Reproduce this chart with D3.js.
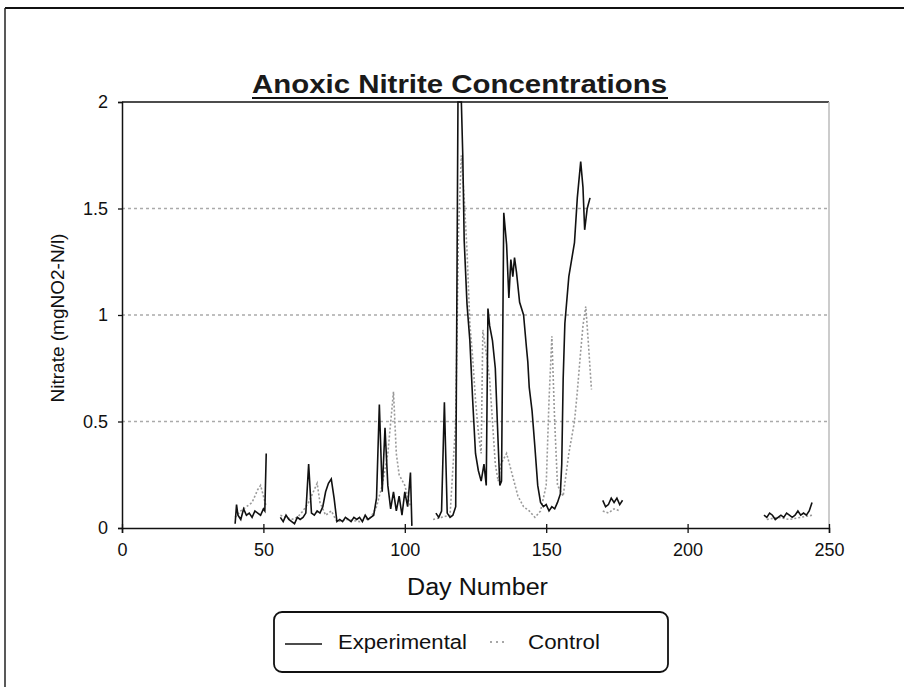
<!DOCTYPE html>
<html><head><meta charset="utf-8">
<script src="https://cdn.jsdelivr.net/npm/d3@7"></script>
<style>body{margin:0;background:#fff}svg{display:block}text{font-family:"Liberation Sans",Arial,sans-serif}</style>
</head><body>
<svg id="c" width="904" height="687"></svg>
<script>
const title = "Anoxic Nitrite Concentrations";
const xLabel = "Day Number";
const yLabel = "Nitrate (mgNO2-N/l)";
const seriesNames = ["Experimental", "Control"];
const xTicks = [0, 50, 100, 150, 200, 250];
const yTicks = [0, 0.5, 1, 1.5, 2];
const yTickLabels = ["0", "0.5", "1", "1.5", "2"];
const gridValues = [0.5, 1, 1.5];

// Experimental (solid) — null marks a gap in the record
const expDays = [40,40.5,41,42,43,44,45,46,47,48,49,50,50.5,51,52,
  56,57,58,59,60,61,62,63,64,65,66,67,68,69,70,71,72,73,74,75,76,77,78,79,80,81,82,83,84,85,86,87,88,89,90,91,92,93,94,95,96,97,98,99,100,101,102,102.5,105,
  111,112,113,114,115,116,117,118,118.8,120,120.5,121,122,123,124,125,126,127,128,128.8,129.4,130,131,132,133,133.6,134.2,135,136,136.8,137.5,138.2,138.8,139.5,140.6,142,143,143.5,144,145,146,147,148,149,150,151,152,153,154,155,155.5,156,156.6,158,160,161,162.2,163,163.6,164.5,165.5,168,
  170,171,172,173,174,175,176,177,180,
  227,228,229,230,231,232,233,234,235,236,237,238,239,240,241,242,243,244];
const expValues = [0.02,0.11,0.06,0.04,0.09,0.06,0.07,0.05,0.08,0.07,0.06,0.09,0.08,0.35,null,
  0.05,0.03,0.06,0.04,0.03,0.02,0.05,0.04,0.05,0.07,0.30,0.07,0.06,0.08,0.07,0.10,0.17,0.21,0.23,0.14,0.03,0.04,0.03,0.05,0.04,0.03,0.05,0.04,0.05,0.03,0.06,0.04,0.05,0.06,0.14,0.58,0.17,0.47,0.20,0.09,0.17,0.08,0.15,0.06,0.17,0.10,0.26,0.01,null,
  0.07,0.05,0.08,0.59,0.07,0.05,0.06,0.10,2.0,2.0,1.75,1.35,1.05,0.88,0.60,0.35,0.27,0.22,0.30,0.20,1.03,0.95,0.88,0.75,0.40,0.20,0.22,1.48,1.33,1.08,1.26,1.18,1.27,1.20,1.06,1.00,0.85,0.78,0.66,0.55,0.38,0.20,0.12,0.10,0.11,0.08,0.10,0.09,0.12,0.16,0.30,0.70,0.96,1.18,1.34,1.55,1.72,1.60,1.40,1.50,1.55,null,
  0.13,0.10,0.11,0.14,0.12,0.14,0.11,0.13,null,
  0.06,0.05,0.07,0.06,0.04,0.05,0.06,0.05,0.07,0.06,0.05,0.06,0.08,0.06,0.07,0.06,0.08,0.12];

// Control (dotted)
const ctrlDays = [40,42,44,46,48,49,50,51,53,
  56,58,60,62,64,66,68,69,70,72,74,76,80,84,88,90,92,94,96,97,98,100,102,105,
  110,113,116,118,119,120,121,122,123,124,125,126,127,127.6,129,130,131,132,133,134,136,137,138,139,140,142,144,146,148,150,151,152,153,154,156,158,160,161,162,163,164,165,166,168,
  170,172,174,176,180,
  228,232,236,240,244];
const ctrlValues = [0.05,0.08,0.10,0.12,0.18,0.20,0.15,0.10,null,
  0.06,0.05,0.04,0.05,0.08,0.12,0.18,0.21,0.12,0.06,0.08,0.03,0.04,0.03,0.05,0.10,0.20,0.35,0.64,0.35,0.25,0.20,0.10,null,
  0.04,0.05,0.06,0.50,1.40,1.75,1.55,1.30,0.96,0.80,0.60,0.45,0.35,0.93,0.80,0.70,0.50,0.30,0.22,0.30,0.35,0.30,0.25,0.20,0.15,0.10,0.08,0.05,0.08,0.20,0.60,0.90,0.50,0.20,0.15,0.35,0.50,0.64,0.80,0.95,1.04,0.85,0.65,null,
  0.08,0.07,0.09,0.08,null,
  0.04,0.05,0.04,0.05,0.06];

const svg = d3.select("#c");
const x = d3.scaleLinear().domain([0, 250]).range([122, 829]);
const y = d3.scaleLinear().domain([0, 2]).range([528, 102]);

// outer frame (scan edges)
svg.append("line").attr("x1", 5).attr("x2", 904).attr("y1", 8).attr("y2", 8).attr("stroke", "#111").attr("stroke-width", 2);
svg.append("line").attr("x1", 5).attr("x2", 5).attr("y1", 8).attr("y2", 687).attr("stroke", "#222").attr("stroke-width", 1.5);

// title
svg.append("text").attr("x", 252).attr("y", 93)
  .attr("font-size", 26).attr("font-weight", "bold").attr("fill", "#1a1a1a")
  .attr("textLength", 415).attr("lengthAdjust", "spacingAndGlyphs").text(title);
svg.append("line").attr("x1", 252).attr("x2", 668).attr("y1", 98).attr("y2", 98).attr("stroke", "#111").attr("stroke-width", 2);

// grid
svg.append("g").selectAll("line").data(gridValues).join("line")
  .attr("x1", x(0)).attr("x2", x(250)).attr("y1", d => y(d)).attr("y2", d => y(d))
  .attr("stroke", "#aaa").attr("stroke-width", 1.3).attr("stroke-dasharray", "3,3");

// plot frame
svg.append("line").attr("x1", x(0)).attr("x2", x(250)).attr("y1", y(2)).attr("y2", y(2)).attr("stroke", "#111").attr("stroke-width", 1.5);
svg.append("line").attr("x1", x(250)).attr("x2", x(250)).attr("y1", y(2)).attr("y2", y(0)).attr("stroke", "#bbb").attr("stroke-width", 1.5);

// axes
const yAxis = d3.axisLeft(y).tickValues(yTicks).tickSize(4).tickPadding(10).tickFormat((d, i) => yTickLabels[i]);
const gy = svg.append("g").attr("transform", `translate(${x(0)},0)`).call(yAxis);
const xAxis = d3.axisBottom(x).tickValues(xTicks).tickSize(5).tickPadding(10);
const gx = svg.append("g").attr("transform", `translate(0,${y(0)})`).call(xAxis);
[gx, gy].forEach(g => {
  g.select(".domain").attr("stroke", "#111").attr("stroke-width", 1.5);
  g.selectAll(".tick line").attr("stroke", "#111").attr("stroke-width", 1.3);
  g.selectAll(".tick text").attr("font-size", 18).attr("fill", "#111").attr("font-family", "Liberation Sans, Arial, sans-serif");
});
gx.selectAll(".tick line").attr("y1", -4);

// series
const expData = expDays.map((d, i) => [d, expValues[i]]);
const ctrlData = ctrlDays.map((d, i) => [d, ctrlValues[i]]);
const line = d3.line().defined(d => d[1] !== null).x(d => x(d[0])).y(d => y(d[1]));
svg.append("path").datum(ctrlData).attr("d", line).attr("fill", "none")
  .attr("stroke", "#999").attr("stroke-width", 1.6).attr("stroke-dasharray", "2,2");
svg.append("path").datum(expData).attr("d", line).attr("fill", "none")
  .attr("stroke", "#111").attr("stroke-width", 1.6);

// axis labels
svg.append("text").attr("x", 407).attr("y", 595).attr("font-size", 23).attr("fill", "#111")
  .attr("textLength", 141).attr("lengthAdjust", "spacingAndGlyphs").text(xLabel);
svg.append("text").attr("transform", "translate(64,318) rotate(-90)").attr("text-anchor", "middle").attr("font-size", 19).attr("fill", "#111").text(yLabel);

// legend
const lg = svg.append("g");
lg.append("rect").attr("x", 274).attr("y", 612).attr("width", 394).attr("height", 60).attr("rx", 8)
  .attr("fill", "none").attr("stroke", "#111").attr("stroke-width", 1.8);
lg.append("line").attr("x1", 285).attr("x2", 322).attr("y1", 644).attr("y2", 644).attr("stroke", "#111").attr("stroke-width", 1.5);
lg.append("text").attr("x", 338).attr("y", 649).attr("font-size", 20).attr("fill", "#111")
  .attr("textLength", 129).attr("lengthAdjust", "spacingAndGlyphs").text(seriesNames[0]);
lg.append("line").attr("x1", 490).attr("x2", 507).attr("y1", 642).attr("y2", 642).attr("stroke", "#8a8a8a").attr("stroke-width", 1.5).attr("stroke-dasharray", "2,4");
lg.append("text").attr("x", 528).attr("y", 649).attr("font-size", 20).attr("fill", "#111")
  .attr("textLength", 72).attr("lengthAdjust", "spacingAndGlyphs").text(seriesNames[1]);
</script>
</body></html>
